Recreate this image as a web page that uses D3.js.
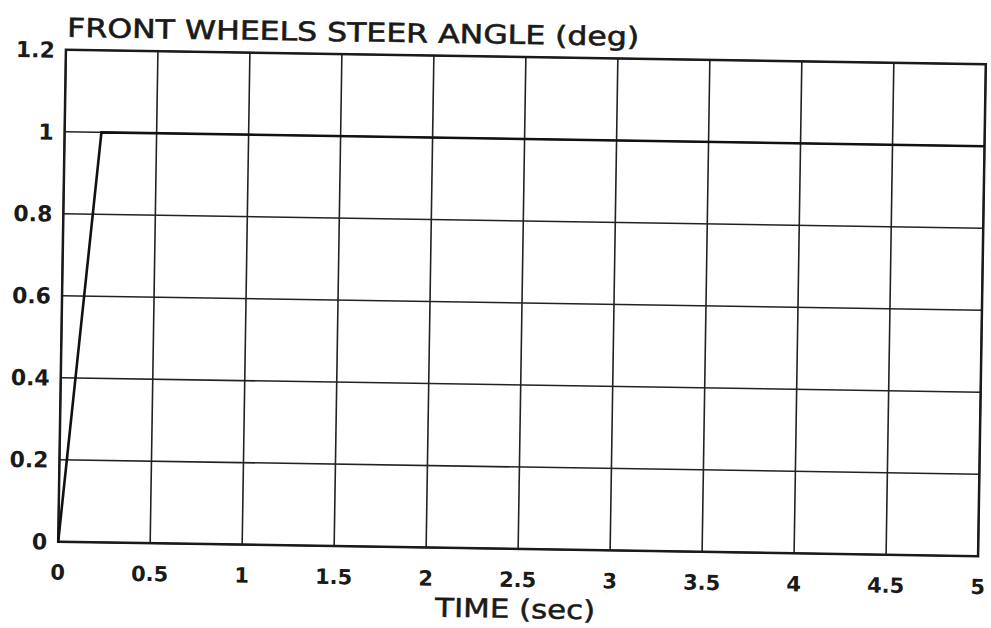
<!DOCTYPE html>
<html>
  <head>
    <title>Front wheels steer angle</title>
    <meta charset="utf-8" />
    <style>
      body { margin: 0; background: #fff; }
      text { font-family: "DejaVu Sans", Verdana, sans-serif; fill: #1a1a1a; }
    </style>
  </head>
  <body>
    <div id="plot"></div>
    <script src="https://d3js.org/d3.v7.min.js"></script>
    <script>
      // steer input: quick ramp then hold
      const timeSec = [0, 0.2, 5];
      const steerDeg = [0, 1, 1];
      const xTicks = [0, 0.5, 1, 1.5, 2, 2.5, 3, 3.5, 4, 4.5, 5];
      const yTicks = [0, 0.2, 0.4, 0.6, 0.8, 1, 1.2];
      const xTickLabels = ["0", "0.5", "1", "1.5", "2", "2.5", "3", "3.5", "4", "4.5", "5"];
      const yTickLabels = ["0", "0.2", "0.4", "0.6", "0.8", "1", "1.2"];

      const W = 991, H = 628;
      const width = 920, height = 492;
      const cx = 522, cy = 303;
      const plotLeft = cx - width / 2, plotTop = cy - height / 2;

      const svg = d3.select("#plot").append("svg")
        .attr("width", W).attr("height", H);

      // the scan is a bit tilted, so the whole plot is turned slightly
      const g = svg.append("g")
        .attr("transform", `rotate(0.9, ${cx}, ${cy}) translate(${plotLeft}, ${plotTop})`);

      const x = d3.scaleLinear().domain([0, 5]).range([0, width]);
      const y = d3.scaleLinear().domain([0, 1.2]).range([height, 0]);

      // grid
      g.append("g").selectAll("line").data(xTicks).join("line")
        .attr("x1", d => x(d)).attr("x2", d => x(d))
        .attr("y1", 0).attr("y2", height)
        .attr("stroke", "#222").attr("stroke-width", 1.6);
      g.append("g").selectAll("line").data(yTicks).join("line")
        .attr("y1", d => y(d)).attr("y2", d => y(d))
        .attr("x1", 0).attr("x2", width)
        .attr("stroke", "#222").attr("stroke-width", 1.6);

      g.append("rect").attr("width", width).attr("height", height)
        .attr("fill", "none").attr("stroke", "#1a1a1a").attr("stroke-width", 2.5);

      // tick labels
      g.append("g").selectAll("text").data(xTicks).join("text")
        .attr("x", d => x(d)).attr("y", height + 38)
        .attr("text-anchor", "middle")
        .attr("font-size", 21).attr("font-weight", "bold")
        .text((d, i) => xTickLabels[i]);
      g.append("g").selectAll("text").data(yTicks).join("text")
        .attr("x", -11).attr("y", d => y(d) + 8)
        .attr("text-anchor", "end")
        .attr("font-size", 22).attr("font-weight", "bold")
        .text((d, i) => yTickLabels[i]);

      // series
      const line = d3.line().x(d => x(d[0])).y(d => y(d[1]));
      g.append("path")
        .datum(timeSec.map((t, i) => [t, steerDeg[i]]))
        .attr("d", line)
        .attr("fill", "none").attr("stroke", "#111").attr("stroke-width", 2.6);

      // titles (the original lettering is wider than any local font)
      g.append("text").attr("x", 1).attr("y", -13)
        .attr("font-size", 26)
        .attr("textLength", 572).attr("lengthAdjust", "spacingAndGlyphs")
        .attr("stroke", "#1a1a1a").attr("stroke-width", 0.6)
        .text("FRONT WHEELS STEER ANGLE (deg)");
      g.append("text").attr("x", width / 2 - 2).attr("y", height + 69)
        .attr("text-anchor", "middle")
        .attr("font-size", 26)
        .attr("textLength", 160).attr("lengthAdjust", "spacingAndGlyphs")
        .attr("stroke", "#1a1a1a").attr("stroke-width", 0.5)
        .text("TIME (sec)");
    </script>
  </body>
</html>
